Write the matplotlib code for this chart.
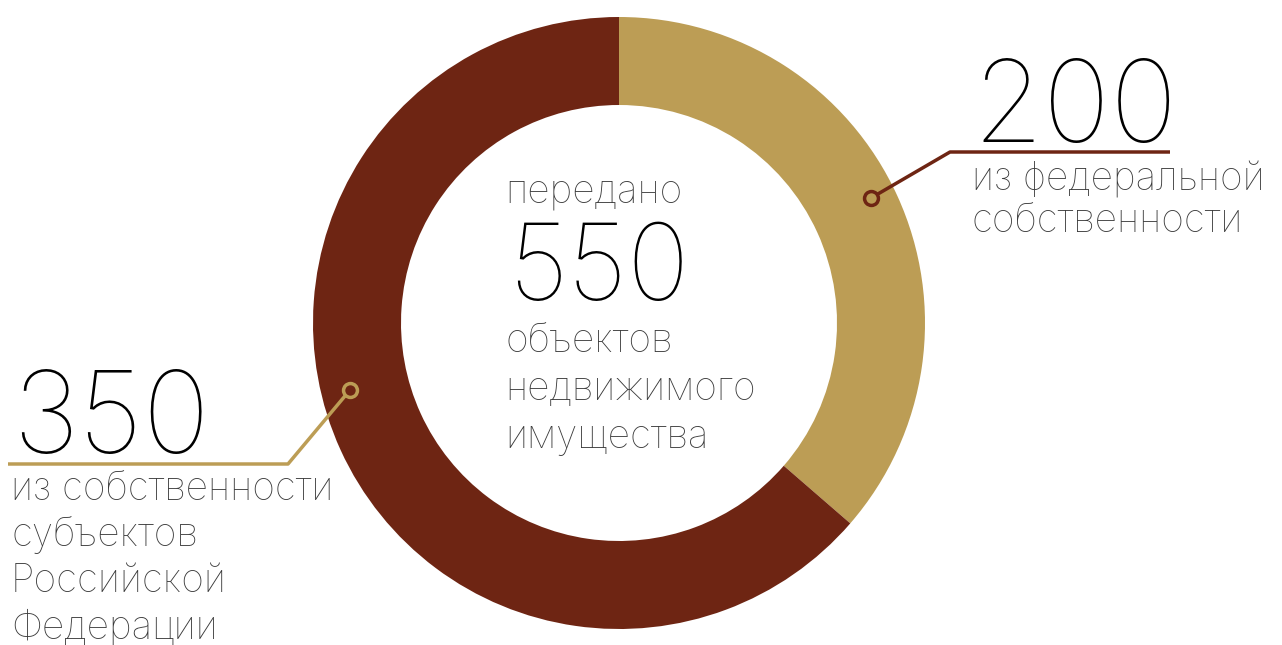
import matplotlib
matplotlib.use("Agg")
import matplotlib.pyplot as plt
from matplotlib import font_manager as fm
from matplotlib.patches import Wedge

# ---- data ----
categories = ["из федеральной\nсобственности", "из собственности\nсубъектов\nРоссийской\nФедерации"]
values = [200, 350]
total = sum(values)
center_top = "передано"
center_bottom = ["объектов", "недвижимого", "имущества"]
colors = ["#BC9D55", "#6E2513"]

# ---- pick a thin font ----
cands = []
for f in fm.fontManager.ttflist:
    if f.name in ("Inter", "Lato", "Roboto", "Open Sans", "Noto Sans"):
        w = f.weight if isinstance(f.weight, int) else 400
        cands.append((w, f.name, f.fname))
cands.sort()
fp = fm.FontProperties(fname=cands[0][2]) if cands else fm.FontProperties(weight="light")

W, H = 1282, 645
fig = plt.figure(figsize=(W / 100, H / 100), dpi=100)
ax = fig.add_axes([0, 0, 1, 1])
ax.set_xlim(0, W)
ax.set_ylim(H, 0)
ax.set_aspect("equal")
ax.axis("off")

cx, cy, R, width = 619, 323, 306, 88
start = -90.0
for v, c in zip(values, colors):
    sweep = 360.0 * v / total
    ax.add_patch(Wedge((cx, cy), R, start, start + sweep, width=width, facecolor=c, edgecolor="none"))
    start += sweep

gray = "#3a3a3a"
LBL = 28

# ---- center text ----
ax.text(505, 203, center_top, fontproperties=fp, fontsize=LBL, color=gray, va="baseline", ha="left")
ax.text(508, 300, str(total), fontproperties=fp, fontsize=76, color="black", va="baseline", ha="left")
for i, s in enumerate(center_bottom):
    ax.text(505, 352 + 48 * i, s, fontproperties=fp, fontsize=LBL, color=gray, va="baseline", ha="left")

# ---- right label (200) ----
ax.text(972, 142, str(values[0]), fontproperties=fp, fontsize=82, color="black", va="baseline", ha="left")
for i, s in enumerate(categories[0].split("\n")):
    ax.text(972, 190 + 42 * i, s, fontproperties=fp, fontsize=LBL, color=gray, va="baseline", ha="left")
ax.plot([1170, 950, 871], [152, 152, 198], color=colors[1], lw=2.5, solid_capstyle="butt")
ax.plot([871], [198], marker="o", ms=10, mfc=colors[0], mec=colors[1], mew=2.5)

# ---- left label (350) ----
ax.text(12, 453, str(values[1]), fontproperties=fp, fontsize=82, color="black", va="baseline", ha="left")
for i, s in enumerate(categories[1].split("\n")):
    ax.text(11, 500 + 46 * i, s, fontproperties=fp, fontsize=LBL, color=gray, va="baseline", ha="left")
ax.plot([8, 288, 350], [464, 464, 390], color=colors[0], lw=2.5, solid_capstyle="butt")
ax.plot([350], [390], marker="o", ms=10, mfc=colors[1], mec=colors[0], mew=2.5)

fig.savefig("out.png", dpi=100)
